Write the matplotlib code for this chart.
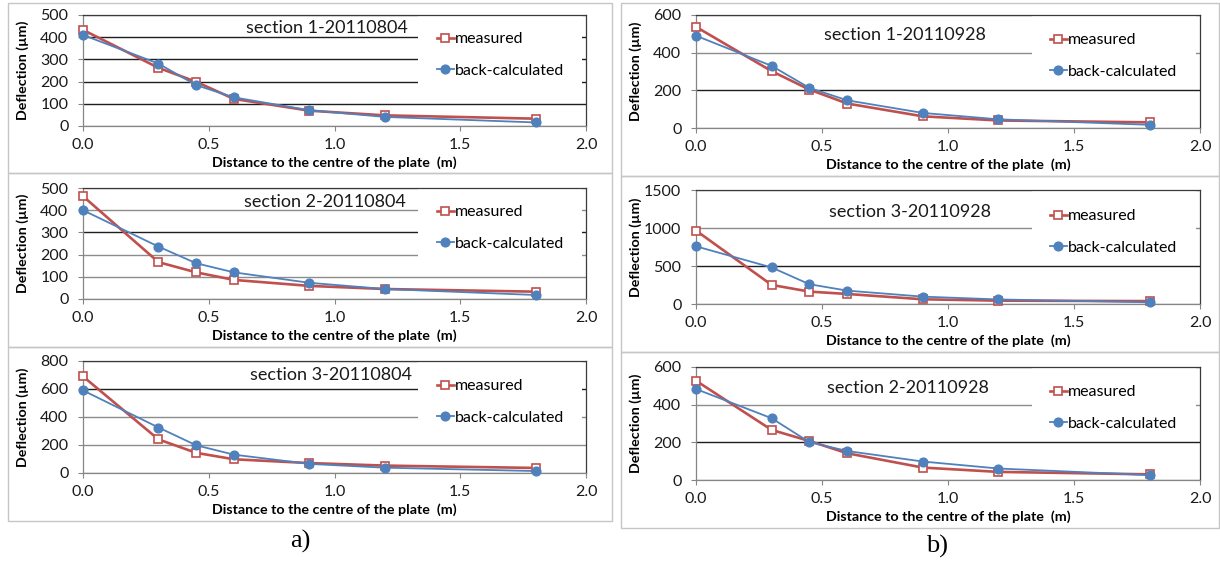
import matplotlib
matplotlib.use("Agg")
import matplotlib.pyplot as plt
from matplotlib.patches import Rectangle

# ---------------- data ----------------
distance = [0.0, 0.3, 0.45, 0.6, 0.9, 1.2, 1.8]

titles = ["section 1-20110804", "section 2-20110804", "section 3-20110804",
          "section 1-20110928", "section 3-20110928", "section 2-20110928"]

measured_s1_0804 = [433, 262, 199, 122, 69, 48, 33]
backcalc_s1_0804 = [410, 281, 184, 129, 71, 41, 16]
measured_s2_0804 = [463, 166, 120, 86, 59, 45, 33]
backcalc_s2_0804 = [400, 236, 161, 120, 73, 45, 18]
measured_s3_0804 = [690, 240, 144, 98, 71, 53, 36]
backcalc_s3_0804 = [590, 325, 198, 131, 65, 38, 14]
measured_s1_0928 = [537, 302, 204, 130, 62, 40, 30]
backcalc_s1_0928 = [490, 330, 213, 147, 80, 46, 17]
measured_s3_0928 = [966, 251, 163, 132, 62, 44, 38]
backcalc_s3_0928 = [759, 481, 260, 176, 97, 60, 22]
measured_s2_0928 = [527, 266, 207, 142, 66, 43, 30]
backcalc_s2_0928 = [483, 328, 201, 154, 98, 61, 26]

series_measured = [measured_s1_0804, measured_s2_0804, measured_s3_0804,
                   measured_s1_0928, measured_s3_0928, measured_s2_0928]
series_backcalc = [backcalc_s1_0804, backcalc_s2_0804, backcalc_s3_0804,
                   backcalc_s1_0928, backcalc_s3_0928, backcalc_s2_0928]

y_max = [500, 500, 800, 600, 1500, 600]
y_step = [100, 100, 200, 200, 500, 200]
x_ticks = [0.0, 0.5, 1.0, 1.5, 2.0]

legend_labels = ["measured", "back-calculated"]
xlabel = "Distance to the centre of the plate  (m)"
ylabel = "Deflection (\u00b5m)"
panel_tags = ["a)", "b)"]

# ---------------- layout (pixels) ----------------
W, H = 1220, 564
fig = plt.figure(figsize=(W / 100, H / 100), dpi=100)
fig.patch.set_facecolor("white")

FONT = "Lato"
RED = "#C0504D"
BLUE = "#4F81BD"
GRID_GRAY = "#8c8c8c"
GRID_DARK = "#1e1e1e"

# axes boxes: left, right, top, bottom (px)
boxes = [(83, 586, 15, 126), (83, 586, 188, 299), (83, 586, 361, 473),
         (696, 1200, 15, 128), (696, 1200, 190, 304), (696, 1200, 367, 480)]
# dark gridlines per panel (others gray)
dark_grid = [[100, 200, 300, 400], [300], [600], [200], [500], [200]]
# title centres (px)
title_pos = [(327, 28), (325, 202), (331, 375), (905, 35), (910, 212), (908, 388)]
# legend first row centre (px)
legend_pos = [(437, 39), (437, 212), (437, 386), (1050, 40), (1050, 216), (1050, 392)]

# panel borders
borders = [(8, 612, 3, 173), (8, 612, 173, 347), (8, 612, 347, 521),
           (621, 1219, 3, 176), (621, 1219, 176, 352), (621, 1219, 352, 528)]
for (l, r, t, b) in borders:
    fig.patches.append(Rectangle((l / W, 1 - b / H), (r - l) / W, (b - t) / H,
                                 transform=fig.transFigure, fill=False,
                                 edgecolor="#c6c6c6", linewidth=1.0, zorder=0))

for i in range(6):
    l, r, t, b = boxes[i]
    ax = fig.add_axes([l / W, 1 - b / H, (r - l) / W, (b - t) / H])
    ax.set_xlim(0, 2.0)
    ax.set_ylim(0, y_max[i])
    ax.set_xticks(x_ticks)
    ax.set_xticklabels([f"{v:.1f}" for v in x_ticks])
    ax.set_yticks(list(range(0, y_max[i] + 1, y_step[i])))
    ax.set_axisbelow(True)
    ax.yaxis.grid(True, color=GRID_GRAY, linewidth=1.0)
    for loc, gl in zip(ax.get_yticks(), ax.yaxis.get_gridlines()):
        if loc in dark_grid[i]:
            gl.set_color(GRID_DARK)
    # white block behind legend (hides gridlines)
    ax.add_patch(Rectangle((0.666, 0.36), 0.326, 0.63, transform=ax.transAxes,
                           facecolor="white", edgecolor="none", zorder=1))

    ax.plot(distance, series_measured[i], color=RED, lw=1.9, marker="s", ms=5.8,
            mfc="white", mec=RED, mew=1.2, label=legend_labels[0], zorder=3,
            clip_on=False)
    ax.plot(distance, series_backcalc[i], color=BLUE, lw=1.3, marker="o", ms=6.3,
            mfc=BLUE, mec=BLUE, label=legend_labels[1], zorder=4, clip_on=False)

    for side in ["top", "right"]:
        ax.spines[side].set_color("#3a3a3a")
        ax.spines[side].set_linewidth(0.9)
    for side in ["left", "bottom"]:
        ax.spines[side].set_color("#868686")
        ax.spines[side].set_linewidth(0.9)
    ax.tick_params(axis="both", direction="out", length=3.5, width=0.8,
                   color="#868686", labelsize=11.5, labelcolor="#1a1a1a")
    ax.tick_params(axis="x", pad=5)
    ax.tick_params(axis="y", pad=7)
    for lab in ax.get_xticklabels() + ax.get_yticklabels():
        lab.set_family(FONT)

    ax.set_xlabel(xlabel, fontsize=10.3, fontweight="bold", family=FONT, labelpad=3)
    ax.set_ylabel(ylabel, fontsize=10.3, fontweight="bold", family=FONT)
    ax.yaxis.set_label_coords(-0.108, 0.5)

    tx, ty = title_pos[i]
    fig.text(tx / W, 1 - ty / H, titles[i], fontsize=13, family=FONT,
             ha="center", va="center", color="#1a1a1a")

    lx, ly = legend_pos[i]
    ax.legend(loc="upper left", bbox_to_anchor=(lx / W, 1 - (ly - 7) / H),
              bbox_transform=fig.transFigure, frameon=False, borderpad=0,
              borderaxespad=0, handlelength=1.05, handletextpad=0.1,
              labelspacing=1.08, prop={"family": FONT, "size": 11.5})

fig.text(300 / W, 1 - 541 / H, panel_tags[0], fontsize=19, family="Liberation Serif",
         ha="center", va="center")
fig.text(937 / W, 1 - 546 / H, panel_tags[1], fontsize=19, family="Liberation Serif",
         ha="center", va="center")

fig.savefig("out.png", dpi=100)
